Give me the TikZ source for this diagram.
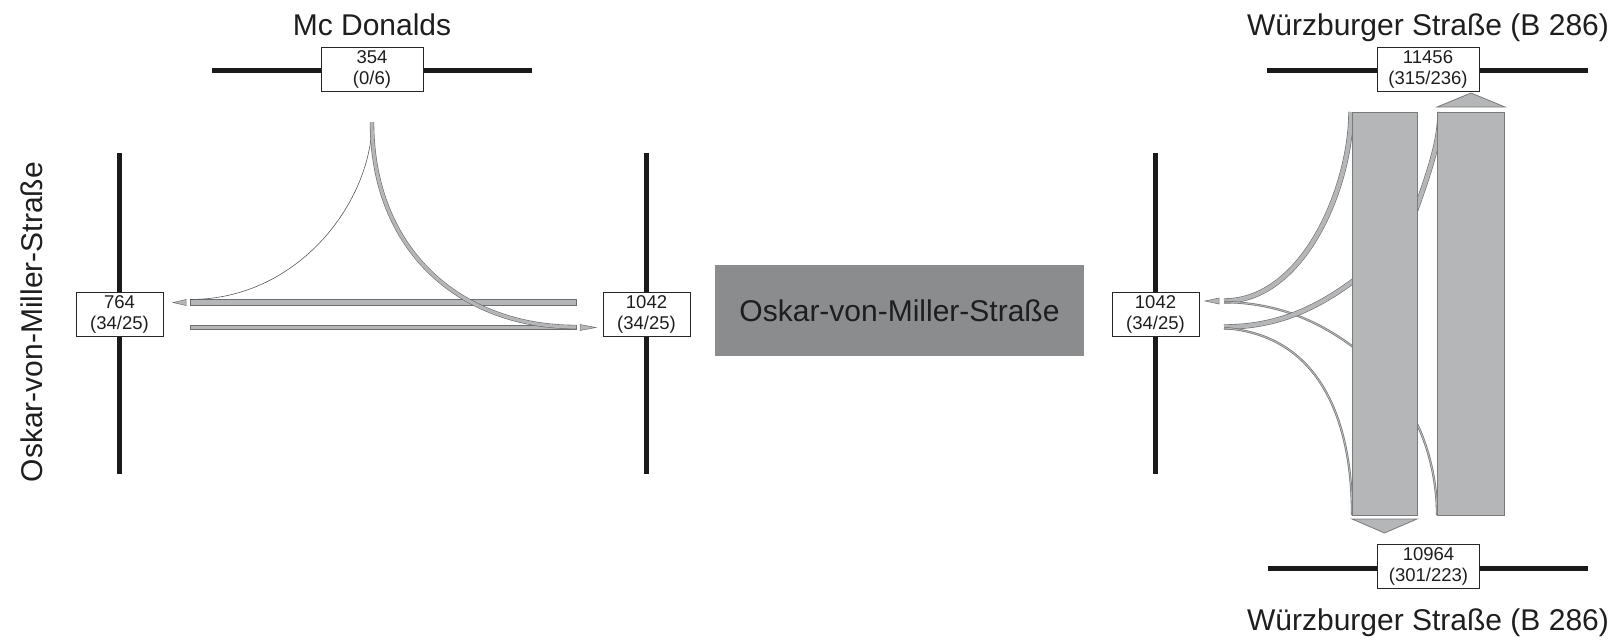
\documentclass[tikz,border=0pt]{standalone}
\usepackage{fontspec}
\setmainfont{Liberation Sans}
\definecolor{roadcol}{HTML}{1A1A1A}
\definecolor{bandfill}{HTML}{B4B6B8}
\definecolor{bandline}{HTML}{6E6E6E}
\definecolor{blockgray}{HTML}{8A8C8D}
\definecolor{rectfill}{HTML}{B4B6B8}
\definecolor{rectline}{HTML}{7A7A7A}
\definecolor{textcol}{HTML}{1E1E1E}
\begin{document}
\begin{tikzpicture}[x=1pt,y=-1pt,
  roadline/.style={line width=5pt, draw=roadcol},
  countbox/.style={draw=black!85, line width=0.9pt, fill=white, minimum width=87pt, minimum height=44pt, inner sep=0pt, align=center, text=textcol, font=\fontsize{18.5}{21}\selectfont},
  widebox/.style={countbox, minimum width=102pt},
  streetlabel/.style={font=\fontsize{30}{36}\selectfont, text=textcol, inner sep=0pt},
  flowband/.style={draw=bandline, double=bandfill, double distance=4.2pt, line width=0.6pt},
  cuspband/.style={draw=bandline, double=bandfill, double distance=3.2pt, line width=0.6pt},
  thinband/.style={draw=bandline, double=bandfill, double distance=1pt, line width=0.6pt},
  thinflow/.style={draw=black!65, line width=0.6pt},
  barshape/.style={draw=bandline, fill=bandfill, line width=0.6pt},
  arrowtri/.style={draw=bandline, fill=bandfill, line width=0.5pt},
  bigflow/.style={draw=rectline, fill=rectfill, line width=0.8pt},
]
\useasboundingbox (0,0) rectangle (1622,641);

% ---------- left junction ----------
\draw[roadline] (212,70) -- (532,70);
\draw[roadline] (119.5,153) -- (119.5,474);
\draw[roadline] (646.5,153) -- (646.5,474);

\node[widebox] (mcd) at (372,69) {354\\(0/6)};
\node[countbox] (west) at (119.5,314.5) {764\\(34/25)};
\node[countbox] (midbox) at (646.5,314.5) {1042\\(34/25)};
\node[streetlabel, anchor=base] (mcdlabel) at (372,35) {Mc Donalds};
\node[streetlabel, anchor=base, rotate=90] (omslabel) at (42,322) {Oskar-von-Miller-Straße};

\coordinate (cusp) at (372,122);
\coordinate (upperstart) at (190,299.5);
\coordinate (lowerend) at (576,327);

\draw[barshape] (190,299) rectangle (576,305.5);
\draw[barshape] (190,325) rectangle (576,329);
\draw[arrowtri] (186,299.5) -- (173,302.5) -- (186,305.5) -- cycle;
\draw[arrowtri] (580,324.5) -- (596,327.5) -- (580,330.5) -- cycle;

\draw[thinflow] (cusp) .. controls (372,200) and (300,299.5) .. (upperstart);
\draw[cuspband] (cusp) .. controls (372,250) and (460,327) .. (lowerend);

% ---------- middle block ----------
\node[fill=blockgray, minimum width=369pt, minimum height=91pt, streetlabel] (omsblock) at (899.5,310.5) {Oskar-von-Miller-Straße};

% ---------- right junction ----------
\draw[roadline] (1155.5,153) -- (1155.5,474);
\draw[roadline] (1267,70) -- (1588,70);
\draw[roadline] (1268,568) -- (1588,568);

\node[countbox] (eastbox) at (1155.5,314.5) {1042\\(34/25)};
\node[widebox] (north) at (1428,69) {11456\\(315/236)};
\node[widebox] (south) at (1428.5,566) {10964\\(301/223)};
\node[streetlabel, anchor=base] (northlabel) at (1428,35) {Würzburger Straße (B 286)};
\node[streetlabel, anchor=base] (southlabel) at (1428,630) {Würzburger Straße (B 286)};

\draw[arrowtri] (1219,298) -- (1205,301) -- (1219,304) -- cycle;

\draw[flowband] (1224,301) .. controls (1304,301) and (1351,186) .. (1351,112);
\draw[thinband] (1224,302) .. controls (1280,303) and (1320,322) .. (1356,349);
\draw[flowband] (1224,327) .. controls (1280,327) and (1320,306) .. (1356,279);
\draw[thinband] (1224,328) .. controls (1320,335) and (1352,420) .. (1352,515);
\draw[flowband] (1415,212) .. controls (1430,170) and (1440,140) .. (1440,112);
\draw[thinband] (1415,420) .. controls (1428,445) and (1437,480) .. (1437,515);

\draw[bigflow] (1352,112) rectangle (1417,515);
\draw[bigflow] (1437,112) rectangle (1504,515);
\draw[bigflow] (1437,107) -- (1471,93) -- (1505,107) -- cycle;
\draw[bigflow] (1352,519) -- (1384.5,533) -- (1417,519) -- cycle;
\end{tikzpicture}
\end{document}
